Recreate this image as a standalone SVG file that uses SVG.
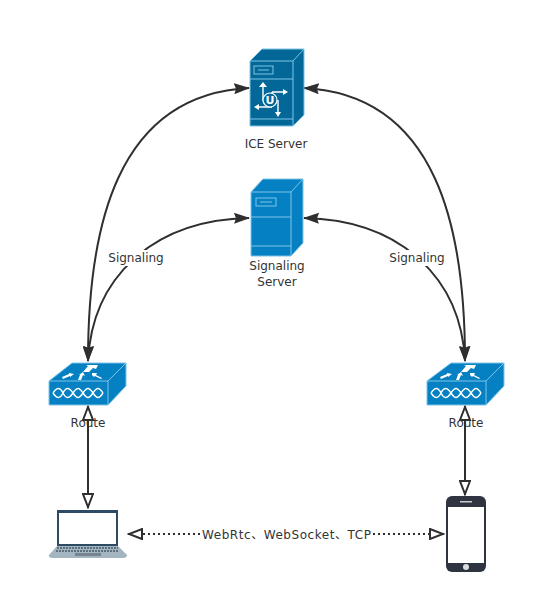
<svg xmlns="http://www.w3.org/2000/svg" width="538" height="604" viewBox="0 0 538 604">
<style>
text{font-family:"DejaVu Sans","Noto Sans CJK SC",sans-serif;font-size:12px;fill:#333;text-anchor:middle}
.c{fill:none;stroke:#2f2f2f;stroke-width:2}
.d{fill:none;stroke:#2f2f2f;stroke-width:2;stroke-dasharray:2 3}
.lb{fill:#fff;stroke:none}
.e{fill:none;stroke:#7cc4e8;stroke-width:1}
.w{fill:none;stroke:#fff;stroke-width:1.4}
</style>
<defs>
<marker id="s" viewBox="0 0 16 11" refX="15" refY="5.500" markerWidth="16" markerHeight="11" markerUnits="userSpaceOnUse" orient="auto-start-reverse"><path d="M0 0L16 5.500L0 11L2 5.500Z" fill="#2f2f2f"/></marker>
<marker id="o" viewBox="0 0 16 12" refX="15" refY="6" markerWidth="16" markerHeight="12" markerUnits="userSpaceOnUse" orient="auto-start-reverse"><path d="M1 1L14 6L1 11Z" fill="#fff" stroke="#2f2f2f" stroke-width="2"/></marker>
</defs>
<g id="connectors">
<path class="c" marker-start="url(#s)" marker-end="url(#s)" d="M88 361C88 230 115 95 249 88"/>
<path class="c" marker-start="url(#s)" marker-end="url(#s)" d="M88 361C92 280 150 220 249 218"/>
<path class="c" marker-start="url(#s)" marker-end="url(#s)" d="M465 361C465 230 438 95 304 88"/>
<path class="c" marker-start="url(#s)" marker-end="url(#s)" d="M465 361C461 280 403 220 304 218"/>
<path class="c" marker-start="url(#o)" marker-end="url(#o)" d="M88 406V508"/>
<path class="c" marker-start="url(#o)" marker-end="url(#o)" d="M465 406V495"/>
<path class="d" marker-start="url(#o)" marker-end="url(#o)" d="M128 534H444"/>
<rect class="lb" x="107" y="250" width="58" height="16"/>
<rect class="lb" x="388" y="250" width="58" height="16"/>
<rect class="lb" x="202" y="527" width="169" height="16"/>
<text x="136" y="262">Signaling</text>
<text x="417" y="262">Signaling</text>
<text x="286.500" y="539" textLength="169" lengthAdjust="spacing">WebRtc、WebSocket、TCP</text>
</g>
<g id="ice-server">
<path d="M250 61L262 49H304V115L293 126H250Z" fill="#036897"/>
<path class="e" d="M250 61L262 49H304V115L293 126H250ZM250 61H293V126M293 61L304 49M250 79H293M250 119H293"/>
<rect x="254" y="66" width="19" height="8" fill="none" stroke="#7cc4e8"/>
<path d="M258 70H269" stroke="#7cc4e8"/>
<path class="w" d="M263 86V100H268M272 92H284M257 107H272M278 100V113M272 92V98"/>
<circle cx="270" cy="100" r="7" fill="#036897" stroke="#fff" stroke-width="1.2"/>
<path d="M263 82L267 87H259ZM288 92L283 89V95ZM254 107L259 104V110ZM278 117L275 112H281Z" fill="#fff"/>
<text x="270" y="104" style="font-size:11px;font-weight:bold;fill:#fff">U</text>
<text x="276" y="148">ICE Server</text>
</g>
<g id="signaling-server">
<path d="M251 192L263 179H303V243L291 256H251Z" fill="#0580c2"/>
<path class="e" d="M251 192L263 179H303V243L291 256H251ZM251 192H291V256M291 192L303 179M251 217H291M251 246H291"/>
<rect x="256" y="198" width="20" height="8" fill="none" stroke="#7cc4e8"/>
<path d="M260 202H272" stroke="#7cc4e8"/>
<text x="277" y="270">Signaling</text>
<text x="277" y="286">Server</text>
</g>
<g id="route-left">
<path d="M49 381L72 363H126V386L108 405H49Z" fill="#0580c2"/>
<path class="e" d="M49 381L72 363H126V386L108 405H49ZM49 381H108V405M108 381L126 363"/>
<path d="M83 372L88 366L86 365L98 365L96 369L93 368L89 372ZM62 377L69 374L69 373L74 374L70 377L70 376L63 379ZM78 380L80 375L79 375L83 372L85 376L83 375L81 380ZM92 375L92 373L97 373L96 375L102 378L101 379L95 376L94 377Z" fill="#fff"/>
<path class="w" d="M53 393C57 387 60 387 63 393S69 399 73 393S79 387 83 393S89 399 93 393S99 387 103 393M53 393C57 399 60 399 63 393S69 387 73 393S79 399 83 393S89 387 93 393S99 399 103 393"/>
<text x="88" y="427">Route</text>
</g>
<g id="route-right">
<path d="M427 381L451 363H504V386L486 405H427Z" fill="#0580c2"/>
<path class="e" d="M427 381L451 363H504V386L486 405H427ZM427 381H486V405M486 381L504 363"/>
<path d="M461 372L466 366L464 365L476 365L474 369L471 368L467 372ZM440 377L447 374L447 373L452 374L448 377L448 376L441 379ZM456 380L458 375L457 375L461 372L463 376L461 375L459 380ZM470 375L470 373L475 373L474 375L480 378L479 379L473 376L472 377Z" fill="#fff"/>
<path class="w" d="M431 393C435 387 438 387 441 393S447 399 451 393S457 387 461 393S467 399 471 393S477 387 481 393M431 393C435 399 438 399 441 393S447 387 451 393S457 399 461 393S467 387 471 393S477 399 481 393"/>
<text x="466" y="427">Route</text>
</g>
<g id="laptop">
<rect x="57" y="510" width="61" height="36" fill="#2f4b63"/>
<rect x="59" y="513" width="57" height="31" fill="#fff"/>
<path d="M57 546H118L127 555Q127 558 123 558H53Q48 558 49 555Z" fill="#a2b5c0"/>
<path d="M57 548H118M56 551H119" stroke="#45596b" stroke-width="1.6" stroke-dasharray="2 1"/>
<rect x="75" y="553" width="26" height="3" fill="#75848e"/>
</g>
<g id="phone">
<rect x="446" y="496" width="40" height="76" rx="6" fill="#2e3440"/>
<rect x="448" y="507" width="36" height="56" fill="#fff"/>
<rect x="460" y="501" width="12" height="1.5" fill="#ccc"/>
<circle cx="466" cy="567" r="3" fill="#ddd"/>
</g>
</svg>
